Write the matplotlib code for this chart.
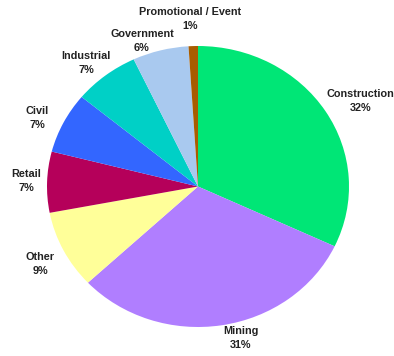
import matplotlib
matplotlib.use('Agg')
import matplotlib.pyplot as plt

# sectors, clockwise from 12 o'clock
labels = ['Construction', 'Mining', 'Other', 'Retail', 'Civil',
          'Industrial', 'Government', 'Promotional / Event']
shares = [32, 31, 9, 7, 7, 7, 6, 1]
colors = ['#00e676', '#b07eff', '#ffff99', '#b5005a', '#3366ff',
          '#00d0c6', '#a9c9ef', '#a85c00']

# label centres in pie units (x, y)
label_pos = [(1.076, 0.609), (0.285, -1.078), (-1.046, -0.552), (-1.139, 0.039),
             (-1.066, 0.488), (-0.742, 0.879), (-0.371, 1.036), (-0.053, 1.192)]

fig = plt.figure(figsize=(3.94, 3.56), dpi=100)
ax = fig.add_axes([47/394, 29/356, 302/394, 281/356])

wedges, _ = ax.pie(shares, colors=colors, startangle=90, counterclock=False,
                   wedgeprops=dict(linewidth=0))
ax.set_aspect('auto')
ax.set_xlim(-1, 1)
ax.set_ylim(-1, 1)
ax.axis('off')

for lab, s, (x, y) in zip(labels, shares, label_pos):
    ax.text(x, y, '%s\n%d%%' % (lab, s), ha='center', va='center',
            fontsize=7.8, fontweight='bold', color='#222222',
            family=['Liberation Sans', 'DejaVu Sans'], linespacing=1.45,
            clip_on=False)

fig.savefig('out.png', dpi=100)
